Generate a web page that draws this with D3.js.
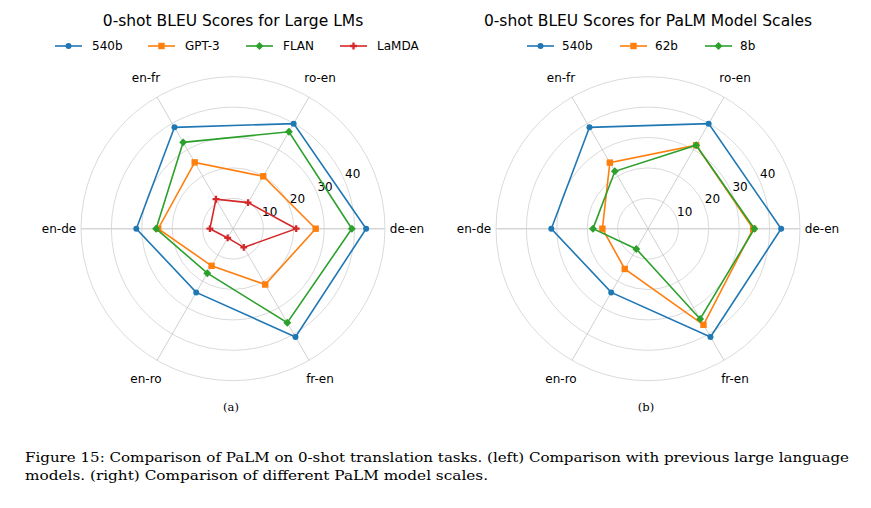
<!DOCTYPE html>
<html>
<head>
<meta charset="utf-8">
<script src="https://cdn.jsdelivr.net/npm/d3@7"></script>
<style>
  body { margin: 0; background: #fff; }
  svg { display: block; }
  text { font-family: "DejaVu Sans", sans-serif; fill: #000; }
  .serif { font-family: "DejaVu Serif", "Liberation Serif", serif; }
</style>
</head>
<body>
<script>
// language pairs, counter-clockwise from the right
var pairs = ["de-en", "ro-en", "en-fr", "en-de", "en-ro", "fr-en"];
var rTicks = [10, 20, 30, 40];

// left chart series
var leftNames = ["540b", "GPT-3", "FLAN", "LaMDA"];
var palm540 = [43.8, 39.9, 38.5, 31.8, 24.2, 41.1];
var gpt3 = [27.2, 19.9, 25.2, 24.6, 14.1, 21.2];
var flan = [39.1, 36.8, 32.8, 25.3, 16.9, 35.7];
var lamda = [20.8, 9.9, 11.2, 7.6, 3.5, 7.1];

// right chart series
var rightNames = ["540b", "62b", "8b"];
var palm62 = [34.6, 31.7, 25.1, 15.0, 15.3, 36.5];
var palm8 = [35.0, 31.7, 21.8, 18.1, 7.7, 34.3];

var colors = ["#1f77b4", "#ff7f0e", "#2ca02c", "#d62728"];
var markers = ["circle", "square", "diamond", "plus"];

var W = 871, H = 508;
var svg = d3.select("body").append("svg")
  .attr("width", W).attr("height", H);

var r = d3.scaleLinear().domain([0, 50]).range([0, 152]);
var angle = d3.scaleLinear().domain([0, pairs.length]).range([Math.PI / 2, Math.PI / 2 - 2 * Math.PI]);

function xy(i, v) {
  var a = angle(i);
  return [r(v) * Math.sin(a), -r(v) * Math.cos(a)];
}

function marker(g, kind, color) {
  if (kind == "circle") {
    g.append("circle").attr("r", 3).attr("fill", color);
  } else if (kind == "square") {
    g.append("rect").attr("x", -3.2).attr("y", -3.2).attr("width", 6.4).attr("height", 6.4).attr("fill", color);
  } else if (kind == "diamond") {
    g.append("rect").attr("x", -2.8).attr("y", -2.8).attr("width", 5.6).attr("height", 5.6)
      .attr("transform", "rotate(45)").attr("fill", color);
  } else {
    g.append("path").attr("d", d3.symbol(d3.symbolCross, 26)()).attr("fill", color);
  }
}

function radar(cx, title, names, series, legendX, legendText) {
  var g = svg.append("g").attr("transform", "translate(" + cx + ",228.7)");

  // circular grid
  g.selectAll(".ring").data(rTicks.concat([50])).enter().append("circle")
    .attr("r", function(d) { return r(d); })
    .attr("fill", "none").attr("stroke", "#d0d0d0").attr("stroke-width", 0.8);

  // spokes
  g.selectAll(".spoke").data(pairs).enter().append("line")
    .attr("x1", 0).attr("y1", 0)
    .attr("x2", function(d, i) { return xy(i, 50)[0]; })
    .attr("y2", function(d, i) { return xy(i, 50)[1]; })
    .attr("stroke", function(d, i) { return i % 3 == 0 ? "#d6d6d6" : "#c4c4c4"; })
    .attr("stroke-width", function(d, i) { return i % 3 == 0 ? 1.6 : 0.8; });

  // radial tick labels
  g.selectAll(".rtick").data(rTicks).enter().append("text")
    .attr("x", function(d) { return (r(d) + 10) * Math.cos(24.5 * Math.PI / 180); })
    .attr("y", function(d) { return -(r(d) + 10) * Math.sin(24.5 * Math.PI / 180); })
    .attr("text-anchor", "middle").attr("dominant-baseline", "central")
    .style("font-size", "12px")
    .text(function(d) { return d; });

  // pair labels
  g.selectAll(".plabel").data(pairs).enter().append("text")
    .attr("x", function(d, i) { return xy(i, 50)[0] * 174 / 152; })
    .attr("y", function(d, i) { return xy(i, 50)[1] * 174 / 152; })
    .attr("text-anchor", "middle").attr("dominant-baseline", "central")
    .style("font-size", "12px")
    .text(function(d) { return d; });

  var line = d3.lineRadial()
    .angle(function(d, i) { return angle(i); })
    .radius(function(d) { return r(d); })
    .curve(d3.curveLinearClosed);

  series.forEach(function(s, k) {
    g.append("path").attr("d", line(s))
      .attr("fill", "none").attr("stroke", colors[k]).attr("stroke-width", 1.6);
    s.forEach(function(v, i) {
      var p = xy(i, v);
      marker(g.append("g").attr("transform", "translate(" + p[0] + "," + p[1] + ")"), markers[k], colors[k]);
    });
  });

  // title
  svg.append("text").attr("x", cx).attr("y", 25.5)
    .attr("text-anchor", "middle").style("font-size", "15.5px")
    .text(title);

  // legend
  names.forEach(function(n, k) {
    var lg = svg.append("g").attr("transform", "translate(" + legendX[k] + ",46)");
    lg.append("line").attr("x1", 0).attr("x2", 27).attr("y1", 0).attr("y2", 0)
      .attr("stroke", colors[k]).attr("stroke-width", 1.6);
    marker(lg.append("g").attr("transform", "translate(13.5,0)"), markers[k], colors[k]);
    lg.append("text").attr("x", legendText).attr("y", 0)
      .attr("dominant-baseline", "central").style("font-size", "12px").text(n);
  });
}

radar(233, "0-shot BLEU Scores for Large LMs", leftNames, [palm540, gpt3, flan, lamda], [55, 148, 246, 340], 37);
radar(648, "0-shot BLEU Scores for PaLM Model Scales", rightNames, [palm540, palm62, palm8], [527, 620, 705], 35);

// sub captions
svg.append("text").attr("class", "serif").attr("x", 231).attr("y", 411)
  .attr("text-anchor", "middle").style("font-size", "11.5px").text("(a)");
svg.append("text").attr("class", "serif").attr("x", 646).attr("y", 411)
  .attr("text-anchor", "middle").style("font-size", "11.5px").text("(b)");

svg.append("text").attr("class", "serif").attr("x", 25).attr("y", 462)
  .attr("textLength", 824).attr("lengthAdjust", "spacingAndGlyphs")
  .style("font-size", "13px")
  .text("Figure 15: Comparison of PaLM on 0-shot translation tasks. (left) Comparison with previous large language");
svg.append("text").attr("class", "serif").attr("x", 25).attr("y", 480)
  .attr("textLength", 463).attr("lengthAdjust", "spacingAndGlyphs")
  .style("font-size", "13px")
  .text("models. (right) Comparison of different PaLM model scales.");
</script>
</body>
</html>
